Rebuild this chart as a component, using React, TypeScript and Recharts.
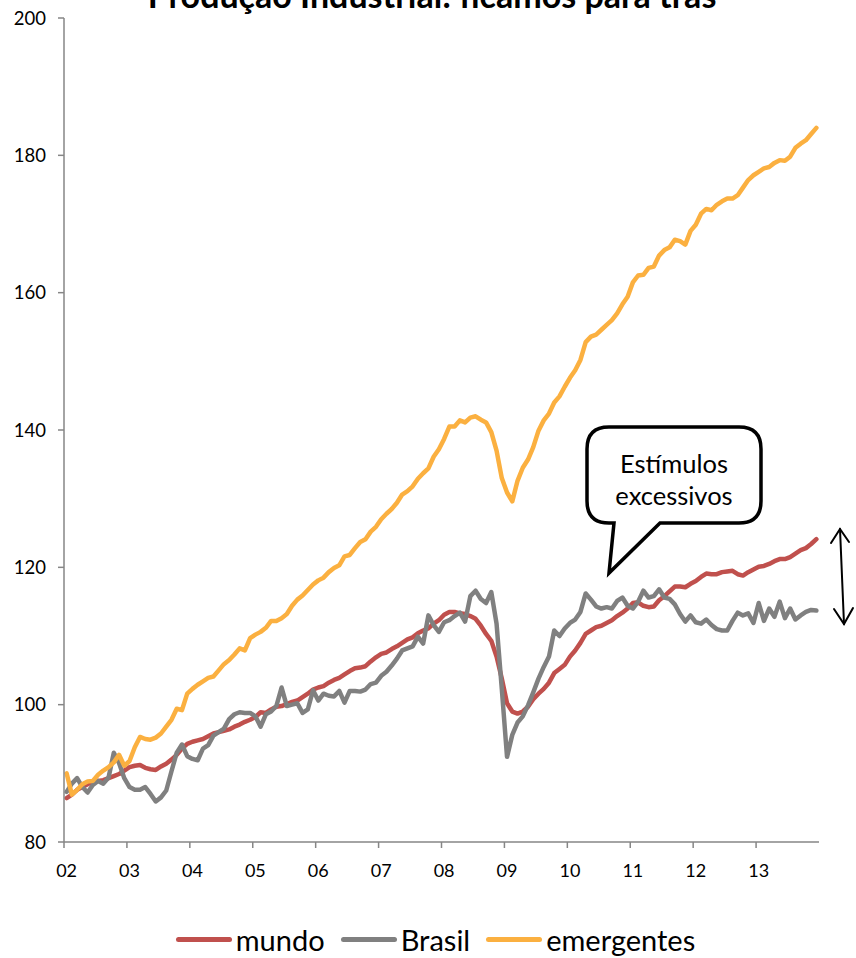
import React from "react";
import { LineChart, Line, XAxis, YAxis } from "recharts";

// one label per year, series are monthly from Jan/2002 to Dec/2013
const yearLabels = ["02", "03", "04", "05", "06", "07", "08", "09", "10", "11", "12", "13"];
const yTicks = [80, 100, 120, 140, 160, 180, 200];

const mundo = [
  86.4, 86.9, 87.6, 88.0, 88.4, 88.8, 88.9, 89.0, 89.3, 89.6, 89.9, 90.4,
  90.9, 91.1, 91.2, 90.8, 90.6, 90.5, 91.0, 91.4, 92.0, 92.7, 93.6, 94.3,
  94.6, 94.8, 95.0, 95.4, 95.8, 96.0, 96.2, 96.4, 96.8, 97.1, 97.5, 97.8,
  98.2, 98.9, 98.8, 99.3, 99.7, 99.8, 100.1, 100.4, 100.6, 101.1, 101.6, 102.2,
  102.5, 102.7, 103.2, 103.6, 103.9, 104.4, 104.9, 105.3, 105.4, 105.6, 106.3, 106.9,
  107.4, 107.6, 108.1, 108.5, 109.0, 109.5, 109.8, 110.4, 110.8, 111.1, 111.8, 112.3,
  113.1, 113.5, 113.5, 113.3, 113.2, 112.9, 112.5, 111.5, 110.3, 109.3, 107.0, 103.8,
  100.2, 99.0, 98.7, 99.0, 99.7, 100.8, 101.6, 102.3, 103.2, 104.6, 105.2, 105.8,
  107.0, 107.9, 109.0, 110.3, 110.8, 111.3, 111.5, 111.9, 112.3, 112.9, 113.4, 114.0,
  114.8, 114.9, 114.4, 114.2, 114.3, 115.2, 115.8, 116.5, 117.2, 117.2, 117.1, 117.6,
  118.0, 118.6, 119.1, 119.0, 119.0, 119.3, 119.4, 119.5, 119.0, 118.8, 119.3, 119.7,
  120.1, 120.2, 120.5, 120.9, 121.2, 121.2, 121.5, 122.0, 122.5, 122.8, 123.4, 124.1,
];

const brasil = [
  87.3, 88.5, 89.3, 88.0, 87.2, 88.3, 88.9, 88.5, 89.4, 93.0, 91.5, 89.3,
  88.0, 87.6, 87.6, 88.0, 87.0, 85.9, 86.5, 87.5, 90.3, 93.0, 94.2, 92.5,
  92.1, 91.9, 93.6, 94.1, 95.5, 96.0, 96.5, 97.9, 98.6, 98.9, 98.8, 98.8,
  98.3, 96.8, 98.6, 99.0, 99.8, 102.5, 99.8, 100.0, 100.2, 98.8, 99.3, 102.1,
  100.6, 101.6, 101.3, 101.2, 102.0, 100.3, 102.0, 102.0, 101.9, 102.2, 103.0, 103.2,
  104.2, 104.8, 105.7, 106.7, 107.9, 108.2, 108.5, 109.9, 108.9, 113.0, 111.6, 110.6,
  112.0, 112.3, 112.9, 113.4, 112.1, 115.8, 116.6, 115.4, 114.8, 116.4, 111.8, 102.3,
  92.4, 95.6, 97.4, 98.3, 99.9, 101.8, 103.8, 105.5, 107.0, 110.8, 110.0, 111.1,
  111.9, 112.4, 113.5, 116.2, 115.3, 114.3, 114.0, 114.2, 114.0, 115.1, 115.6, 114.4,
  114.0, 115.0, 116.6, 115.6, 115.8, 116.8, 115.6, 115.4, 114.6, 113.2, 112.1, 113.0,
  112.0, 111.8, 112.4, 111.6, 111.0, 110.8, 110.8, 112.2, 113.4, 113.0, 113.3, 111.9,
  114.8, 112.2, 114.0, 112.8, 115.0, 112.6, 114.0, 112.4, 113.0, 113.5, 113.8, 113.7,
];

const emergentes = [
  90.0, 86.9, 87.6, 88.4, 88.8, 88.9, 89.8, 90.4, 90.9, 91.6, 92.7, 91.1,
  91.8, 93.8, 95.3, 95.0, 94.9, 95.2, 95.8, 96.8, 97.8, 99.4, 99.2, 101.6,
  102.3, 102.9, 103.4, 103.9, 104.1, 105.0, 105.9, 106.5, 107.3, 108.2, 107.9, 109.7,
  110.2, 110.6, 111.2, 112.2, 112.2, 112.6, 113.2, 114.4, 115.3, 115.9, 116.7, 117.5,
  118.1, 118.5, 119.3, 119.9, 120.3, 121.6, 121.8, 122.8, 123.7, 124.1, 125.2, 125.9,
  127.0, 127.8, 128.5, 129.4, 130.6, 131.1, 131.8, 132.9, 133.7, 134.4, 136.1, 137.2,
  138.7, 140.5, 140.5, 141.4, 141.1, 141.8, 142.0, 141.5, 141.1, 139.7, 137.0, 133.0,
  130.9, 129.6, 132.6, 134.5, 135.7, 137.5, 139.9, 141.4, 142.4, 144.0, 144.9, 146.3,
  147.6, 148.7, 150.2, 152.8, 153.6, 153.9, 154.6, 155.3, 156.0, 157.0, 158.3, 159.4,
  161.5, 162.5, 162.6, 163.6, 163.8, 165.4, 166.2, 166.6, 167.7, 167.5, 167.0, 169.0,
  169.9, 171.5, 172.2, 172.0, 172.8, 173.3, 173.7, 173.7, 174.2, 175.3, 176.4, 177.1,
  177.6, 178.1, 178.3, 178.9, 179.3, 179.2, 179.8, 181.1, 181.7, 182.2, 183.1, 184.0,
];

const data = mundo.map((v, i) => ({
  m: i,
  mundo: v,
  brasil: brasil[i],
  emergentes: emergentes[i],
}));

// tick marks sit between months, like Excel's "between tick marks"
const yearTicks = yearLabels.map((_, k) => k * 12 - 0.5);

const FONT = "Lato, 'Open Sans', sans-serif";
const AXIS = "#868686";
const RED = "#C0504D";
const GRAY = "#808080";
const ORANGE = "#FBB040";

function YearTick(props: any) {
  const { x, y, payload } = props;
  const k = Math.round((payload.value + 0.5) / 12);
  return (
    <text x={x + 2.6} y={y} dy={28.5} textAnchor="middle" fontFamily={FONT} fontSize={18} fill="#000">
      {yearLabels[k]}
    </text>
  );
}

const legendItems = [
  { name: "mundo", color: RED },
  { name: "Brasil", color: GRAY },
  { name: "emergentes", color: ORANGE },
];

export default function App() {
  return (
    <div style={{ position: "absolute", left: 0, top: 0, width: 856, height: 958, background: "#fff", overflow: "hidden" }}>
      <LineChart width={856} height={958} data={data} margin={{ top: 18, right: 37, left: 0, bottom: 0 }}>
        <XAxis
          dataKey="m"
          type="number"
          domain={[-0.5, 143.5]}
          ticks={yearTicks}
          interval={0}
          height={116}
          tick={YearTick}
          tickSize={6}
          tickMargin={0}
          axisLine={{ stroke: AXIS, strokeWidth: 1.5 }}
          tickLine={{ stroke: AXIS, strokeWidth: 1.5 }}
        />
        <YAxis
          type="number"
          domain={[80, 200]}
          ticks={yTicks}
          interval={0}
          width={64}
          tickSize={6}
          tickMargin={12}
          tick={{ fontFamily: FONT, fontSize: 18.5, fill: "#000" }}
          axisLine={{ stroke: AXIS, strokeWidth: 1.5 }}
          tickLine={{ stroke: AXIS, strokeWidth: 1.5 }}
        />
        <Line type="linear" dataKey="mundo" stroke={RED} strokeWidth={4.5} dot={false} strokeLinejoin="round" strokeLinecap="round" isAnimationActive={false} />
        <Line type="linear" dataKey="brasil" stroke={GRAY} strokeWidth={4.5} dot={false} strokeLinejoin="round" strokeLinecap="round" isAnimationActive={false} />
        <Line type="linear" dataKey="emergentes" stroke={ORANGE} strokeWidth={4.5} dot={false} strokeLinejoin="round" strokeLinecap="round" isAnimationActive={false} />
      </LineChart>

      <svg width={856} height={958} style={{ position: "absolute", left: 0, top: 0, pointerEvents: "none" }}>
        <text x={432} y={8} textAnchor="middle" fontFamily={FONT} fontWeight={700} fontSize={34} fill="#000">
          Produção Industrial: ficamos para trás
        </text>
        <path
          d="M 609 427 H 739 Q 761 427 761 449 V 501 Q 761 523 739 523 H 660 L 609 573 L 614 523 H 609 Q 587 523 587 501 V 449 Q 587 427 609 427 Z"
          fill="#fff"
          stroke="#000"
          strokeWidth={3.5}
        />
        <text x={674} y={473} textAnchor="middle" fontFamily={FONT} fontSize={25.5} fill="#000">Estímulos</text>
        <text x={674} y={505} textAnchor="middle" fontFamily={FONT} fontSize={25.5} fill="#000">excessivos</text>
        <g stroke="#000" strokeWidth={2} fill="none" strokeLinecap="round">
          <line x1={840} y1={529} x2={844} y2={624} />
          <polyline points="831,543 840,529 849,542" />
          <polyline points="834,609 844,624 853,608" />
        </g>
      </svg>

      <div style={{ position: "absolute", left: 0, top: 922, width: 871, display: "flex", justifyContent: "center", alignItems: "center", fontFamily: FONT, fontSize: 29, color: "#000" }}>
        {legendItems.map((it, k) => (
          <div key={it.name} style={{ display: "flex", alignItems: "center", marginLeft: k === 0 ? 0 : 16 }}>
            <div style={{ width: 56, height: 5, borderRadius: 3, background: it.color, marginRight: 4 }} />
            <span>{it.name}</span>
          </div>
        ))}
      </div>
    </div>
  );
}
